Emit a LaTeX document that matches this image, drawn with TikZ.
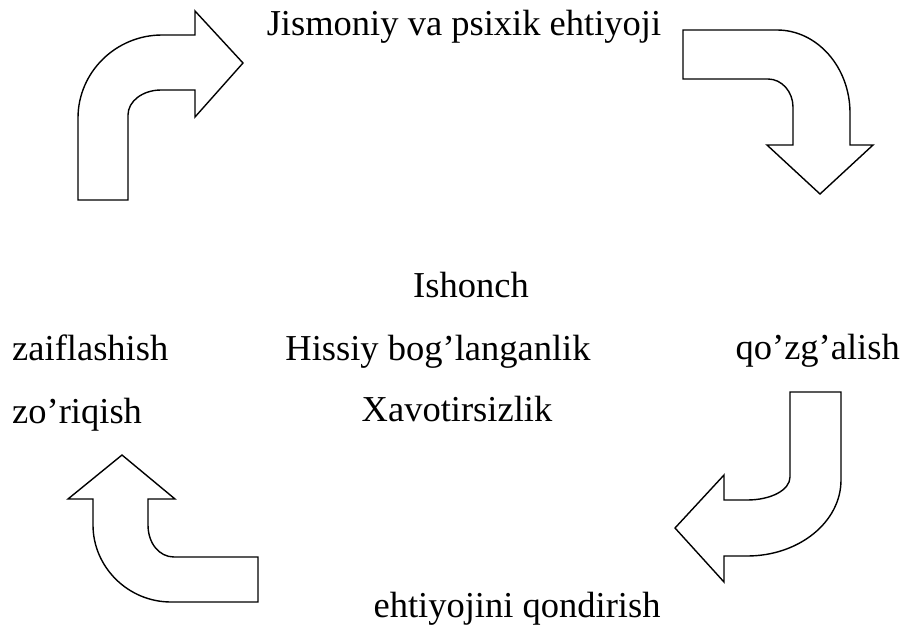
\documentclass[tikz,border=0pt]{standalone}
\usepackage{fontspec}
\setmainfont{Liberation Serif}
\usepackage{tikz}
\usetikzlibrary{positioning,calc}
\tikzset{
    word/.style={inner sep=0pt, font=\fontsize{36.5}{44}\selectfont},
    bentarrow/.style={draw=black, fill=white, line width=1.4pt, line join=miter}
}

\begin{document}
\begin{tikzpicture}[
        % --- ĐƠN VỊ: 1 điểm ảnh = 1pt, trục y hướng xuống ---
        x=1pt, y=-1pt
    ]
    \useasboundingbox (0,0) rectangle (907,627);

    % --- CHỮ ---
    \node[word, anchor=base] (need) at (464,35) {Jismoniy va psixik ehtiyoji};
    \node[word, anchor=base] (trust) at (471,297) {Ishonch};
    \node[word, anchor=base] (bond) at (438,360) {Hissiy bog’langanlik};
    \node[word, anchor=base] (calm) at (457,421) {Xavotirsizlik};
    \node[word, anchor=base west] (weak) at (12,360) {zaiflashish};
    \node[word, anchor=base west] (strain) at (12,423) {zo’riqish};
    \node[word, anchor=base east] (arouse) at (900,359) {qo’zg’alish};
    \node[word, anchor=base] (meet) at (517,617) {ehtiyojini qondirish};

    % --- MŨI TÊN 1: trái trên, lên rồi sang phải ---
    \draw[bentarrow] (78,200) -- (78,118)
        .. controls (78,72) and (116,35) .. (162,35)
        -- (195,35) -- (195,11) -- (243,63) -- (195,117) -- (195,90) -- (161,90)
        .. controls (143,90) and (128,101) .. (128,115)
        -- (128,200) -- cycle;

    % --- MŨI TÊN 2: phải trên, sang phải rồi xuống ---
    \draw[bentarrow] (683,30) -- (777,30)
        .. controls (817,30) and (850,67) .. (850,113)
        -- (850,145) -- (873,145) -- (820,194) -- (767,145) -- (793,145) -- (793,107)
        .. controls (793,92) and (782,79) .. (768,79)
        -- (683,79) -- cycle;

    % --- MŨI TÊN 3: phải dưới, xuống rồi sang trái ---
    \draw[bentarrow] (790,392) -- (841,392) -- (841,480)
        .. controls (841,522) and (799,556) .. (747,556)
        -- (724,556) -- (724,582) -- (675,528) -- (724,475) -- (724,500) -- (747,500)
        .. controls (771,500) and (790,490) .. (790,477)
        -- cycle;

    % --- MŨI TÊN 4: trái dưới, sang trái rồi lên ---
    \draw[bentarrow] (258,602) -- (171,602)
        .. controls (128,602) and (93,567) .. (93,525)
        -- (93,499) -- (68,499) -- (122,455) -- (175,499) -- (148,499) -- (148,525)
        .. controls (148,543) and (159,557) .. (174,557)
        -- (258,557) -- cycle;

\end{tikzpicture}
\end{document}
